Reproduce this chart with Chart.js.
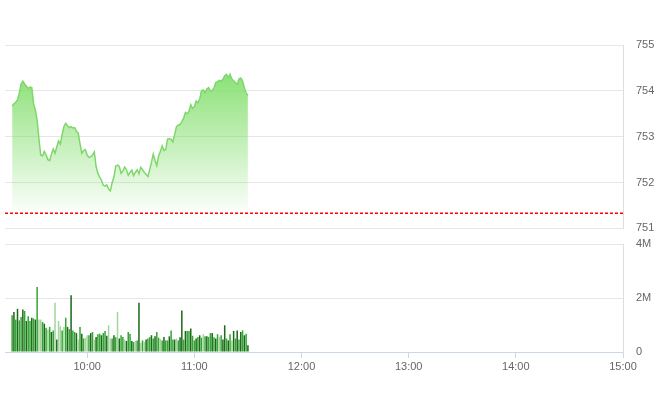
<!DOCTYPE html>
<html>
<head>
<meta charset="utf-8">
<script src="https://cdn.jsdelivr.net/npm/chart.js@4.4.1/dist/chart.umd.min.js"></script>
<style>
html,body{margin:0;padding:0;background:#fff;}
#wrap{position:relative;width:660px;height:412px;overflow:hidden;}
#price{position:absolute;left:0;top:0;}
#vol{position:absolute;left:0;top:232px;}
</style>
</head>
<body>
<div id="wrap">
  <canvas id="price" width="660" height="237"></canvas>
  <canvas id="vol" width="660" height="180"></canvas>
</div>
<script>
// session: one point per minute from 09:18 to 11:30
const startTime = "09:18";
const axisStart = "09:14", axisEnd = "15:00";
const timeTicks = ["10:00","11:00","12:00","13:00","14:00","15:00"];
const refPrice = 751.33;
const priceTicks = [751,752,753,754,755];
const volTicks = [0,2,4];   // millions

const prices = [
  753.67,753.72,753.75,753.80,753.95,754.15,754.21,754.15,754.10,754.05,
  754.08,754.07,753.72,753.58,753.35,752.95,752.60,752.58,752.68,752.60,
  752.50,752.48,752.62,752.73,752.64,752.78,752.91,752.84,753.05,753.22,
  753.29,753.24,753.20,753.22,753.19,753.20,753.12,753.08,752.85,752.64,
  752.70,752.72,752.60,752.55,752.56,752.60,752.67,752.35,752.20,752.12,
  752.05,751.94,751.92,751.95,751.86,751.82,752.00,752.12,752.36,752.38,
  752.35,752.20,752.25,752.34,752.28,752.16,752.22,752.27,752.15,752.22,
  752.28,752.19,752.33,752.28,752.22,752.18,752.13,752.28,752.44,752.62,
  752.48,752.37,752.58,752.68,752.80,752.70,752.72,752.95,752.96,752.94,
  752.89,753.05,753.22,753.25,753.27,753.33,753.40,753.53,753.50,753.55,
  753.70,753.62,753.65,753.78,753.74,753.82,754.00,754.02,753.96,754.04,
  754.07,754.00,754.01,754.06,754.18,754.20,754.23,754.21,754.25,754.33,
  754.36,754.29,754.36,754.26,754.22,754.18,754.14,754.26,754.28,754.22,
  754.07,753.95,753.90
];

const volumes = [
  1.36,1.48,1.20,1.60,1.17,1.30,1.57,1.52,1.15,1.32,
  1.15,1.27,1.24,1.20,2.41,1.20,1.20,1.11,1.05,0.90,
  0.83,0.93,0.74,0.80,1.82,0.46,1.15,0.95,0.80,0.93,
  1.27,0.93,0.85,2.10,0.80,0.74,0.70,0.46,0.93,0.68,
  0.50,0.53,0.62,0.62,0.70,0.74,0.46,0.56,0.66,0.68,
  0.62,0.70,0.78,0.60,0.99,0.50,0.50,0.62,0.55,1.48,
  0.50,0.62,0.56,0.46,0.41,0.74,0.68,0.41,0.37,0.41,
  0.43,1.82,0.34,0.43,0.37,0.46,0.50,0.55,0.62,0.50,
  0.58,0.74,0.53,0.48,0.43,0.56,0.43,0.43,0.58,0.80,
  0.46,0.46,0.50,0.43,0.55,1.54,0.46,0.78,0.78,0.78,
  0.87,0.60,0.43,0.50,0.56,0.62,0.53,0.66,0.58,0.58,
  0.56,0.70,0.70,0.55,0.50,0.66,0.56,0.62,0.46,0.99,
  0.50,0.43,0.66,0.43,0.78,0.50,0.80,0.46,0.74,0.80,
  0.62,0.68,0.25
];

// bar shade: 0 light, 1 mid, 2 dark
const volShade = [
  1,2,1,2,1,1,2,1,2,1,
  1,2,1,2,1,0,0,1,2,1,
  0,1,2,1,0,2,0,0,1,0,
  1,2,1,2,1,1,2,0,1,2,
  1,0,0,1,2,1,0,2,1,1,
  2,1,1,2,0,0,1,2,1,0,
  2,1,1,0,2,1,1,2,1,0,
  1,2,0,1,0,2,1,1,2,1,
  2,1,1,0,1,2,1,1,2,1,
  1,2,0,1,2,2,1,2,1,1,
  2,1,1,2,1,2,1,0,1,2,
  1,1,2,1,2,1,0,1,2,2,
  1,2,1,0,2,1,2,1,2,1,
  2,1,2
];

const toMin = s => { const [h,m] = s.split(":").map(Number); return h*60+m; };
const fmt = v => { const h = Math.floor(v/60), m = v%60; return h + ":" + String(m).padStart(2,"0"); };
const t0 = toMin(startTime);
const times = prices.map((_, i) => t0 + i);
const xMin = toMin(axisStart), xMax = toMin(axisEnd);
const shadeColors = ["#a3d69b", "#35a535", "#1a6a1a"];

Chart.defaults.font = {family: "'Liberation Sans', Arial, sans-serif", size: 11};
Chart.defaults.color = "#666";
const GRID = "#e6e6e6";
const AXIS = "#ccd6eb";

function fixWidth(s){ s.width = 37; }
// right axis: invisible tick marks push the labels out instead of ticks.padding
const rightGrid = {color: GRID, drawTicks: true, tickLength: 11, tickColor: "rgba(0,0,0,0)"};

new Chart(document.getElementById("price"), {
  type: "line",
  data: {
    datasets: [
      {
        data: [{x: xMin, y: refPrice}, {x: xMax, y: refPrice}],
        borderColor: "#ff0000", borderWidth: 1.3, borderDash: [3, 2],
        pointRadius: 0, fill: false
      },
      {
        data: times.map((t, i) => ({x: t, y: prices[i]})),
        borderColor: "#7fd76c", borderWidth: 1.5, tension: 0,
        pointRadius: 0,
        fill: {value: refPrice},
        backgroundColor: ctx => {
          const a = ctx.chart.chartArea;
          if (!a) return "rgba(126,214,108,0.5)";
          const g = ctx.chart.ctx.createLinearGradient(0, a.top + 30, 0, a.bottom - 18);
          g.addColorStop(0, "rgba(128,222,106,0.9)");
          g.addColorStop(1, "rgba(128,222,106,0.04)");
          return g;
        }
      }
    ]
  },
  options: {
    responsive: false, animation: false,
    layout: {padding: {top: 45, bottom: 7, left: 5, right: 0}},
    plugins: {legend: {display: false}, tooltip: {enabled: false}},
    scales: {
      x: {type: "linear", min: xMin, max: xMax, display: false},
      y: {
        position: "right", min: priceTicks[0], max: priceTicks[priceTicks.length-1],
        afterFit: fixWidth,
        afterBuildTicks: s => { s.ticks = priceTicks.map(v => ({value: v})); },
        grid: rightGrid,
        border: {display: true, color: "#dedede"},
        ticks: {padding: 2, callback: v => String(v)}
      }
    }
  }
});

new Chart(document.getElementById("vol"), {
  type: "bar",
  data: {
    datasets: [{
      data: times.map((t, i) => ({x: t, y: volumes[i]})),
      backgroundColor: volShade.map(s => shadeColors[s]),
      barPercentage: 0.85, categoryPercentage: 1
    }]
  },
  options: {
    responsive: false, animation: false,
    layout: {padding: {top: 12, bottom: 30, left: 5, right: 0}},
    plugins: {legend: {display: false}, tooltip: {enabled: false}},
    scales: {
      x: {
        type: "linear", min: xMin, max: xMax, offset: false,
        afterFit: s => { s.height = 30; },
        afterBuildTicks: s => { s.ticks = timeTicks.map(t => ({value: toMin(t)})); },
        grid: {drawOnChartArea: false, offset: false, color: AXIS, tickLength: 6},
        border: {color: AXIS},
        ticks: {padding: 2, maxRotation: 0, autoSkip: false, callback: v => fmt(v)}
      },
      y: {
        position: "right", min: volTicks[0], max: volTicks[volTicks.length-1],
        afterFit: fixWidth,
        afterBuildTicks: s => { s.ticks = volTicks.map(v => ({value: v})); },
        grid: rightGrid,
        border: {display: true, color: "#dedede"},
        ticks: {padding: 2, callback: v => v === 0 ? "0" : v + "M"}
      }
    }
  }
});
</script>
</body>
</html>
